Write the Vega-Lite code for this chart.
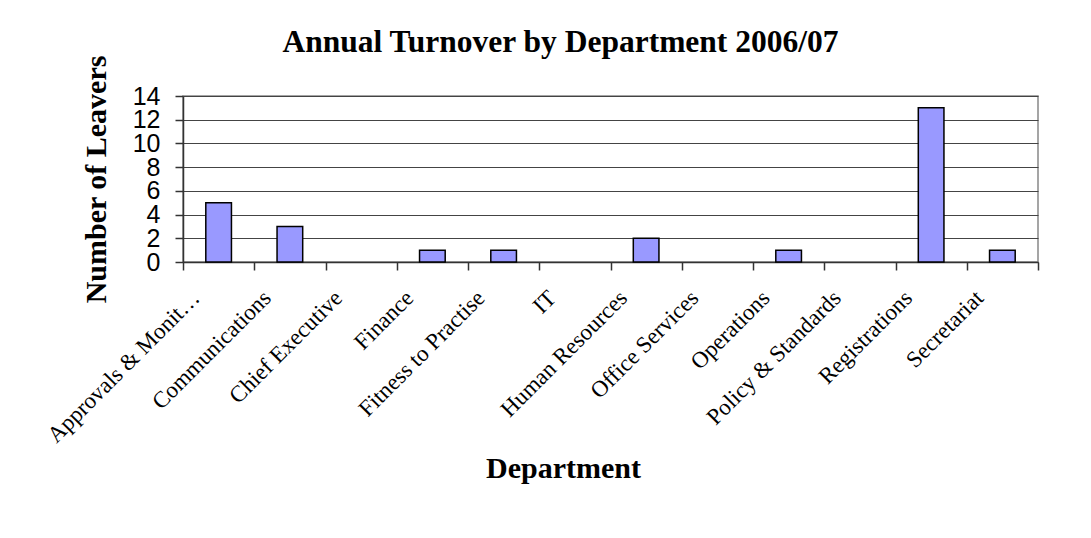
{
  "$schema": "https://vega.github.io/schema/vega-lite/v6.json",
  "autosize": "none",
  "width": 855,
  "height": 166,
  "padding": {"left": 183, "top": 96, "right": 53, "bottom": 276},
  "background": "white",
  "title": {
    "text": "Annual Turnover by Department 2006/07",
    "font": "Liberation Serif",
    "fontSize": 31.5,
    "fontWeight": "bold",
    "color": "black",
    "anchor": "middle",
    "frame": "group",
    "dx": -50,
    "dy": 29,
    "baseline": "alphabetic",
    "offset": 0
  },
  "config": {
    "view": {"stroke": "#888888", "strokeWidth": 1.5}
  },
  "data": {
    "values": [
      {"department": "Approvals & Monit…", "leavers": 5},
      {"department": "Communications", "leavers": 3},
      {"department": "Chief Executive", "leavers": 0},
      {"department": "Finance", "leavers": 1},
      {"department": "Fitness to Practise", "leavers": 1},
      {"department": "IT", "leavers": 0},
      {"department": "Human Resources", "leavers": 2},
      {"department": "Office Services", "leavers": 0},
      {"department": "Operations", "leavers": 1},
      {"department": "Policy & Standards", "leavers": 0},
      {"department": "Registrations", "leavers": 13},
      {"department": "Secretariat", "leavers": 1}
    ]
  },
  "mark": {"type": "bar", "color": "#9999FF", "stroke": "black", "strokeWidth": 1.5, "width": {"band": 0.36}},
  "encoding": {
    "strokeOpacity": {
      "condition": {"test": "datum.leavers == 0", "value": 0},
      "value": 1
    },
    "x": {
      "field": "department",
      "type": "nominal",
      "sort": null,
      "scale": {"paddingInner": 0, "paddingOuter": 0},
      "axis": {
        "title": "Department",
        "titleFont": "Liberation Serif",
        "titleFontSize": 30,
        "titleFontWeight": "bold",
        "titleColor": "black",
        "titleX": 380,
        "titleY": 215,
        "titleBaseline": "alphabetic",
        "titleAnchor": "middle",
        "labelFont": "Liberation Serif",
        "labelFontSize": 23,
        "labelColor": "black",
        "labelAngle": -45,
        "labelAlign": "right",
        "labelBaseline": "middle",
        "labelOffset": -23,
        "labelPadding": 24,
        "labelLimit": 400,
        "labelOverlap": false,
        "tickBand": "extent",
        "tickSize": 8,
        "tickColor": "#333333",
        "tickWidth": 1.5,
        "domainColor": "#333333",
        "domainWidth": 1.5,
        "grid": false
      }
    },
    "y": {
      "field": "leavers",
      "type": "quantitative",
      "scale": {"domain": [0, 14], "nice": false},
      "axis": {
        "title": "Number of Leavers",
        "titleFont": "Liberation Serif",
        "titleFontSize": 30,
        "titleFontWeight": "bold",
        "titleColor": "black",
        "titleAngle": -90,
        "titleX": -78,
        "titleY": 83,
        "titleBaseline": "alphabetic",
        "titleAlign": "center",
        "values": [0, 2, 4, 6, 8, 10, 12, 14],
        "labelFont": "Liberation Sans",
        "labelFontSize": 25,
        "labelColor": "black",
        "labelPadding": 15,
        "labelOverlap": false,
        "labelFlush": false,
        "tickSize": 8,
        "tickColor": "#333333",
        "tickWidth": 1.5,
        "domainColor": "#333333",
        "domainWidth": 1.5,
        "grid": true,
        "gridColor": "#444444",
        "gridWidth": 1.2
      }
    }
  }
}
